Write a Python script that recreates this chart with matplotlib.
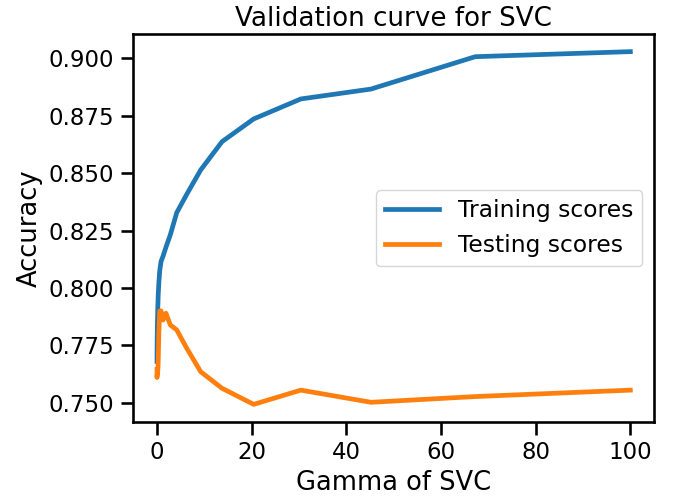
import matplotlib
matplotlib.use("Agg")
import matplotlib.pyplot as plt

gamma = [0.001, 0.00149, 0.00221, 0.00329, 0.00489, 0.00728, 0.01083, 0.01610,
         0.02395, 0.03562, 0.05298, 0.07880, 0.1172, 0.1743, 0.2593, 0.3857,
         0.5736, 0.8532, 1.269, 1.887, 2.807, 4.175, 6.210, 9.237, 13.74,
         20.43, 30.39, 45.20, 67.23, 100.0]

train_scores = [0.7680, 0.7685, 0.7690, 0.7695, 0.7700, 0.7710, 0.7720, 0.7735,
                0.7750, 0.7770, 0.7800, 0.7830, 0.7870, 0.7920, 0.7970, 0.8020,
                0.8075, 0.8115, 0.8138, 0.8177, 0.8231, 0.8328, 0.8405, 0.8514,
                0.8637, 0.8736, 0.8823, 0.8866, 0.9007, 0.9029]

test_scores = [0.7645, 0.7630, 0.7620, 0.7615, 0.7612, 0.7610, 0.7612, 0.7615,
               0.7618, 0.7620, 0.7622, 0.7625, 0.7630, 0.7640, 0.7680, 0.7800,
               0.7900, 0.7900, 0.7860, 0.7890, 0.7839, 0.7817, 0.7740, 0.7635,
               0.7563, 0.7493, 0.7555, 0.7502, 0.7527, 0.7555]

xticks = [0, 20, 40, 60, 80, 100]
yticks = [0.750, 0.775, 0.800, 0.825, 0.850, 0.875, 0.900]

plt.rcParams.update({
    "axes.linewidth": 1.875,
    "xtick.major.width": 1.875,
    "ytick.major.width": 1.875,
    "xtick.major.size": 9,
    "ytick.major.size": 9,
    "xtick.major.pad": 5,
    "ytick.major.pad": 5,
})

fig = plt.figure(figsize=(6.88, 5), dpi=100)
ax = fig.add_axes([0.1938, 0.156, 0.7568, 0.776])
ax.plot(gamma, train_scores, color="#1f77b4", lw=3.4, label="Training scores")
ax.plot(gamma, test_scores, color="#ff7f0e", lw=3.4, label="Testing scores")
ax.set_xticks(xticks)
ax.set_yticks(yticks)
ax.set_yticklabels([f"{v:.3f}" for v in yticks])
ax.tick_params(labelsize=16.5)
ax.set_xlabel("Gamma of SVC", fontsize=18.5)
ax.set_ylabel("Accuracy", fontsize=18.5)
ax.set_title("Validation curve for SVC", fontsize=18.8)
ax.legend(loc="center right", fontsize=16.8, handlelength=2.3)
fig.savefig("out.png", dpi=100)
